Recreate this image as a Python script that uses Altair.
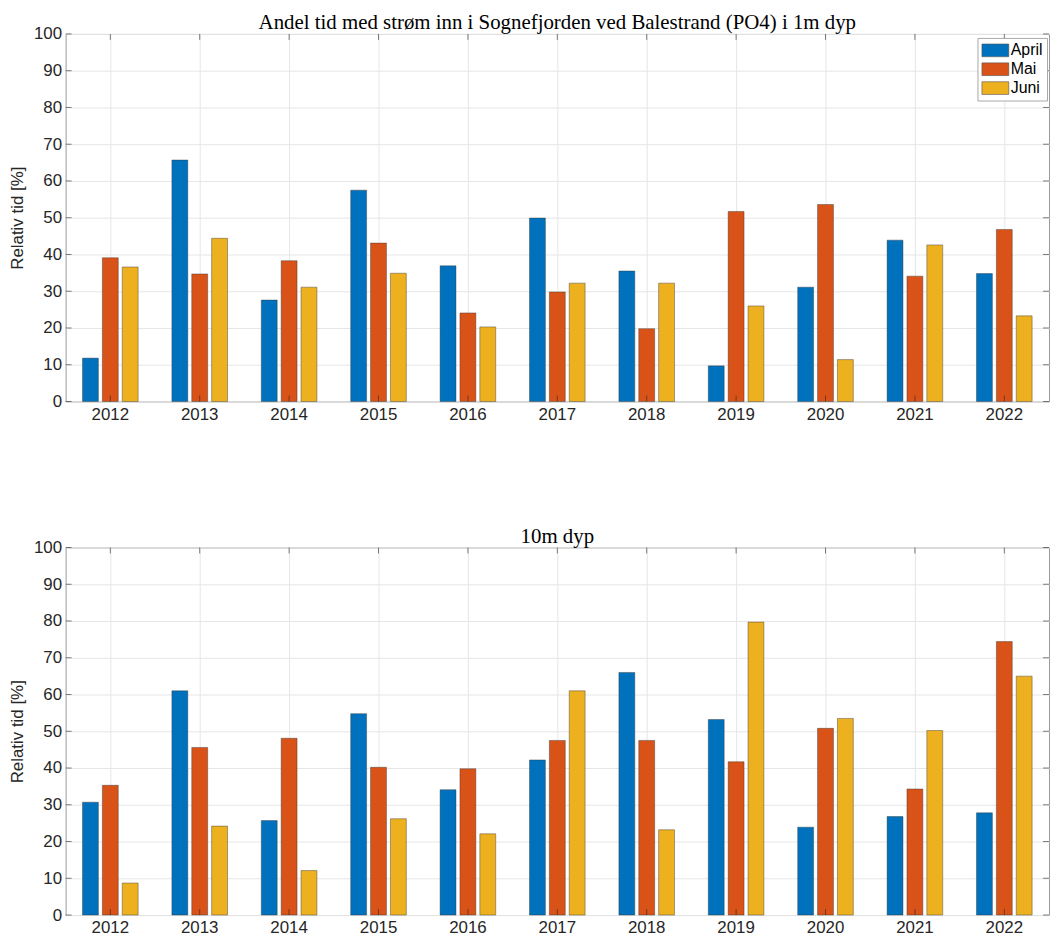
import altair as alt
import pandas as pd

years = [2012, 2013, 2014, 2015, 2016, 2017, 2018, 2019, 2020, 2021, 2022]
months = ["April", "Mai", "Juni"]
colors = ["#0072BD", "#D95319", "#EDB120"]

april_1m = [11.8, 65.7, 27.6, 57.5, 36.9, 49.9, 35.5, 9.7, 31.1, 43.9, 34.8]
mai_1m = [39.1, 34.7, 38.3, 43.1, 24.1, 29.8, 19.8, 51.7, 53.6, 34.1, 46.8]
juni_1m = [36.6, 44.4, 31.1, 34.9, 20.3, 32.2, 32.2, 26.0, 11.4, 42.6, 23.3]

april_10m = [30.7, 61.0, 25.7, 54.8, 34.1, 42.2, 66.0, 53.2, 23.9, 26.8, 27.8]
mai_10m = [35.3, 45.6, 48.1, 40.2, 39.8, 47.5, 47.5, 41.7, 50.8, 34.3, 74.4]
juni_10m = [8.7, 24.2, 12.1, 26.2, 22.1, 61.0, 23.2, 79.7, 53.5, 50.2, 65.0]

y_ticks = [0, 10, 20, 30, 40, 50, 60, 70, 80, 90, 100]

title_top = "Andel tid med strøm inn i Sognefjorden ved Balestrand (PO4) i 1m dyp"
title_bottom = "10m dyp"
y_title = "Relativ tid [%]"

W, H = 990, 370
SANS = "Liberation Sans"
SERIF = "Liberation Serif"
TICK_COLOR = "#262626"
GRID = "#e6e6e6"
year_labels = [str(y) for y in years]


def make_df(a, m, j):
    rows = []
    for i, yr in enumerate(years):
        for mon, vals in zip(months, [a, m, j]):
            rows.append({"year": str(yr), "month": mon, "value": vals[i]})
    return pd.DataFrame(rows)


years_df = pd.DataFrame({"year": year_labels})
yt_df = pd.DataFrame({"value": y_ticks})

x_axis = alt.Axis(title=None, labelAngle=0, bandPosition=0.5)
y_axis = alt.Axis(title=y_title, values=y_ticks, tickCount=12)
x_scale = alt.Scale(paddingInner=0, paddingOuter=0)
y_scale = alt.Scale(domain=[0, 100], nice=False)


def panel(df, title, show_legend):
    legend = (
        alt.Legend(
            title=None,
            orient="none",
            legendX=918,
            legendY=4,
            labelFont=SANS,
            labelFontSize=16,
            labelColor="#000000",
            symbolType="M-1.69,-0.8H1.69V0.8H-1.69Z",
            symbolSize=256,
            symbolOffset=5.5,
            symbolStrokeWidth=0.6,
            symbolStrokeColor="#555555",
            rowPadding=2,
            labelOffset=7,
            padding=4,
            strokeColor="#a8a8a8",
            fillColor="#ffffff",
        )
        if show_legend
        else None
    )
    x_enc = alt.X("year:N", sort=year_labels, scale=x_scale, axis=x_axis)
    y_enc = alt.Y("value:Q", scale=y_scale, axis=y_axis)
    bars = (
        alt.Chart(df)
        .mark_bar(stroke="#333333", strokeWidth=0.6, strokeOpacity=0.7)
        .encode(
            x=x_enc,
            xOffset=alt.XOffset(
                "month:N",
                sort=months,
                scale=alt.Scale(paddingInner=0.2, paddingOuter=0.85),
            ),
            y=y_enc,
            color=alt.Color(
                "month:N",
                sort=months,
                scale=alt.Scale(domain=months, range=colors),
                legend=legend,
            ),
        )
    )
    xt_bottom = alt.Chart(years_df).mark_rule(color=TICK_COLOR, opacity=0.6).encode(
        x=x_enc,
        y=alt.value(H),
        y2=alt.value(H - 6),
    )
    xt_top = alt.Chart(years_df).mark_rule(color=TICK_COLOR, opacity=0.6).encode(
        x=x_enc,
        y=alt.value(0),
        y2=alt.value(6),
    )
    yt_left = alt.Chart(yt_df).mark_rule(color=TICK_COLOR, opacity=0.6).encode(
        y=y_enc,
        x=alt.value(0),
        x2=alt.value(6),
    )
    yt_right = alt.Chart(yt_df).mark_rule(color=TICK_COLOR, opacity=0.6).encode(
        y=y_enc,
        x=alt.value(W - 6),
        x2=alt.value(W),
    )
    return alt.layer(bars, xt_bottom, xt_top, yt_left, yt_right).properties(
        width=W,
        height=H,
        title=alt.Title(
            title,
            font=SERIF,
            fontSize=21,
            fontWeight="normal",
            color="#000000",
            offset=-8,
        ),
    )


top = panel(make_df(april_1m, mai_1m, juni_1m), title_top, True)
bottom = panel(make_df(april_10m, mai_10m, juni_10m), title_bottom, False)

chart = (
    alt.vconcat(top, bottom, spacing=102)
    .resolve_legend(color="independent")
    .properties(
        padding={"left": 0, "top": 0, "right": 0, "bottom": 0},
        background="white",
    )
    .configure_view(stroke="#9a9a9a", strokeWidth=1)
    .configure_axis(
        labelFont=SANS,
        labelFontSize=17,
        labelColor=TICK_COLOR,
        titleFont=SANS,
        titleFontSize=17,
        titleFontWeight="normal",
        titleColor=TICK_COLOR,
        ticks=False,
        domain=False,
        grid=True,
        gridColor=GRID,
    )
    .configure_axisX(labelPadding=5)
    .configure_axisY(labelPadding=4, titlePadding=7, minExtent=32, maxExtent=32)
)

chart.save("out.html", embed_options={"renderer": "svg", "actions": False})
